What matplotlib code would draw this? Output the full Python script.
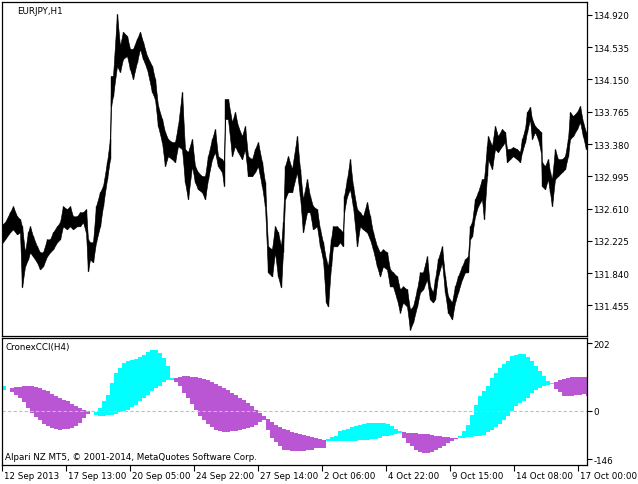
import numpy as np
import matplotlib
matplotlib.use("Agg")
import matplotlib.pyplot as plt
import matplotlib.transforms as mtransforms

# --- EURJPY H1, high/low (bar index = hours from start) ---
bar_x = [0, 5, 10, 13, 17, 20, 22, 25, 28, 30, 33, 37, 40, 43, 47, 50, 53, 57, 60, 63,
         67, 70, 73, 77, 80, 83, 86, 88, 90, 93, 96, 100, 103, 107, 110, 111, 113, 117, 120, 123,
         127, 130, 133, 137, 140, 143, 147, 152, 155, 158, 162, 165, 168, 172, 175, 178, 182, 185, 188, 192,
         195, 198, 202, 205, 208, 212, 215, 218, 222, 224, 225, 228, 232, 235, 238, 242, 245, 248, 252, 255,
         258, 262, 265, 268, 272, 275, 278, 281, 283, 285, 288, 292, 297, 300, 303, 307, 310, 313, 317, 320,
         323, 326, 328, 331, 333, 337, 340, 343, 344, 347, 350, 353, 357, 360, 363, 367, 370, 373, 377, 380,
         383, 387, 390, 393, 397, 400, 403, 407, 410, 413, 417, 420, 423, 427, 430, 433, 435, 438, 442, 445,
         448, 452, 455, 458, 462, 465, 468, 470, 472, 475, 478, 482, 484, 487, 488, 492, 495, 498, 502, 505,
         507, 510, 513, 517, 520, 522, 525, 527, 530, 532, 535, 538, 541, 542, 545, 548, 550, 552, 555, 558,
         562, 565, 568, 570, 573, 577, 580, 583, 586]
price_high = [132.399, 132.447, 132.566, 132.638, 132.518, 132.482, 132.399, 132.088, 132.327, 132.399,
              132.279, 132.160, 132.088, 132.088, 132.243, 132.243, 132.327, 132.399, 132.447, 132.638,
              132.602, 132.638, 132.518, 132.518, 132.566, 132.566, 132.602, 132.243, 132.208, 132.208,
              132.638, 132.805, 132.877, 133.163, 133.438, 134.191, 134.191, 134.932, 134.549, 134.717,
              134.669, 134.514, 134.514, 134.633, 134.717, 134.597, 134.430, 134.310, 134.155, 133.833,
              133.677, 133.522, 133.438, 133.402, 133.402, 133.594, 134.000, 133.319, 133.283, 133.438,
              133.116, 133.044, 132.996, 132.996, 133.235, 133.438, 133.558, 133.235, 133.199, 133.163,
              133.916, 133.916, 133.641, 133.761, 133.594, 133.474, 133.594, 133.235, 133.199, 133.319,
              133.402, 133.163, 132.924, 132.160, 132.124, 132.399, 132.327, 132.160, 132.447, 133.116,
              133.235, 133.080, 133.474, 133.080, 132.721, 132.960, 132.757, 132.638, 132.602, 132.363,
              132.208, 132.005, 131.921, 132.243, 132.399, 132.399, 132.363, 132.327, 132.757, 132.960,
              133.199, 132.877, 132.602, 132.566, 132.518, 132.686, 132.518, 132.327, 132.160, 132.088,
              132.124, 132.088, 131.885, 131.849, 131.801, 131.646, 131.682, 131.646, 131.407, 131.443,
              131.646, 131.849, 131.849, 132.040, 131.682, 131.610, 131.766, 132.005, 132.160, 131.801,
              131.562, 131.491, 131.682, 131.801, 131.921, 132.005, 132.040, 132.399, 132.447, 132.721,
              132.805, 132.960, 132.960, 133.355, 133.474, 133.355, 133.594, 133.474, 133.558, 133.522,
              133.319, 133.319, 133.343, 133.319, 133.283, 133.438, 133.558, 133.761, 133.821, 133.677,
              133.594, 133.558, 133.522, 133.163, 133.116, 133.199, 133.044, 132.960, 133.319, 133.199,
              133.199, 133.235, 133.438, 133.761, 133.713, 133.761, 133.833, 133.641, 133.522]
price_low = [132.160, 132.243, 132.327, 132.363, 132.303, 132.327, 131.670, 131.921, 132.005, 132.088,
             132.040, 131.969, 131.885, 131.921, 132.040, 132.088, 132.124, 132.208, 132.243, 132.399,
             132.363, 132.399, 132.363, 132.399, 132.399, 132.447, 132.327, 131.861, 132.005, 131.969,
             132.208, 132.399, 132.638, 132.960, 133.199, 133.833, 133.952, 134.310, 134.239, 134.394,
             134.430, 134.275, 134.155, 134.358, 134.514, 134.394, 134.275, 134.000, 133.916, 133.594,
             133.402, 133.116, 133.235, 133.199, 133.163, 133.355, 133.319, 132.924, 132.721, 133.116,
             132.924, 132.841, 132.805, 132.721, 132.960, 133.199, 133.283, 133.116, 133.044, 132.877,
             133.677, 133.677, 133.235, 133.355, 133.283, 133.199, 133.319, 132.996, 132.996, 133.044,
             133.116, 132.877, 132.638, 131.849, 131.801, 132.088, 131.801, 131.670, 132.088, 132.721,
             132.805, 132.805, 133.044, 132.757, 132.327, 132.566, 132.566, 132.363, 132.399, 132.160,
             132.005, 131.491, 131.443, 131.921, 132.160, 132.160, 132.208, 132.160, 132.566, 132.757,
             132.841, 132.638, 132.160, 132.399, 132.363, 132.327, 132.243, 132.124, 131.921, 131.801,
             131.921, 131.885, 131.682, 131.682, 131.527, 131.371, 131.491, 131.443, 131.168, 131.252,
             131.443, 131.610, 131.646, 131.766, 131.527, 131.491, 131.527, 131.801, 131.969, 131.610,
             131.371, 131.288, 131.491, 131.610, 131.766, 131.849, 131.849, 132.243, 132.279, 132.518,
             132.638, 132.721, 132.482, 132.996, 133.199, 133.080, 133.319, 133.283, 133.355, 133.402,
             133.163, 133.199, 133.235, 133.199, 133.163, 133.283, 133.402, 133.522, 133.677, 133.438,
             133.522, 133.438, 133.283, 132.877, 132.841, 132.960, 132.805, 132.638, 132.960, 132.996,
             133.044, 133.080, 133.235, 133.438, 133.474, 133.558, 133.641, 133.474, 133.319]
price_ticks = [131.455, 131.840, 132.225, 132.610, 132.995, 133.380, 133.765, 134.150, 134.535, 134.920]

# --- CronexCCI(H4): one value per H4 bar (4 hourly bars wide) ---
h4_x = list(range(2, 587, 4))
cci_fast = [75, 68, 55, 48, 38, 25, 8, -7, -19, -29, -39, -47, -52, -55, -57, -55, -54, -52, -47, -37,
            -22, -9, -8, -5, 8, 28, 48, 83, 113, 128, 143, 148, 151, 155, 161, 168, 175, 183, 181, 173,
            158, 133, 98, 85, 73, 53, 38, 21, 3, -15, -27, -40, -49, -57, -62, -63, -63, -62, -60, -57,
            -55, -53, -49, -42, -35, -27, -57, -82, -95, -105, -117, -119, -120, -122, -122, -121, -119, -117, -112, -112,
            -112, -85, -80, -75, -62, -57, -54, -50, -47, -42, -40, -38, -37, -37, -36, -37, -39, -45, -54, -62,
            -82, -97, -107, -119, -125, -127, -127, -125, -119, -112, -105, -97, -90, -85, -75, -62, -42, -12, 18, 43,
            58, 75, 98, 113, 128, 140, 150, 163, 168, 171, 169, 161, 148, 133, 118, 103, 88, 82, 65, 55,
            45, 43, 43, 48, 48, 50, 43]
cci_slow = [61, 68, 68, 70, 71, 73, 73, 73, 71, 68, 63, 58, 51, 45, 38, 33, 28, 21, 15, 8,
            3, -2, -6, -12, -15, -15, -14, -12, -9, -5, -1, 3, 11, 18, 28, 38, 48, 58, 68, 75,
            85, 93, 93, 98, 101, 103, 103, 101, 100, 98, 95, 91, 85, 81, 75, 68, 61, 53, 46, 38,
            31, 23, 13, 3, -7, -15, -25, -35, -42, -49, -54, -59, -63, -67, -70, -73, -77, -79, -82, -85,
            -87, -90, -91, -92, -92, -92, -92, -91, -90, -89, -88, -87, -85, -84, -82, -77, -75, -72, -69, -67,
            -65, -66, -67, -68, -69, -70, -71, -72, -75, -77, -78, -79, -81, -82, -82, -81, -80, -79, -77, -75,
            -72, -65, -57, -49, -39, -27, -15, -2, 13, 23, 30, 38, 53, 63, 68, 73, 78, 80, 86, 91,
            95, 98, 100, 101, 101, 101, 101]
cci_ticks = [202, 0, -146]

date_pos = [2, 66, 130, 194, 258, 322, 386, 450, 514, 578]
date_labels = ["12 Sep 2013", "17 Sep 13:00", "20 Sep 05:00", "24 Sep 22:00", "27 Sep 14:00",
               "2 Oct 06:00", "4 Oct 22:00", "9 Oct 15:00", "14 Oct 08:00", "17 Oct 00:00"]

W, H = 638, 485
FS = 6.3
plt.rcParams['font.family'] = ['DejaVu Sans']

fig = plt.figure(figsize=(W / 100, H / 100), dpi=100)


def px_axes(left, top, right, bottom):
    return fig.add_axes([left / W, 1 - bottom / H, (right - left) / W, (bottom - top) / H])


def style(a):
    for s in a.spines.values():
        s.set_color("black")
        s.set_linewidth(0.9)
    a.yaxis.tick_right()
    a.tick_params(axis="y", direction="out", length=3.5, width=0.8, pad=1.5, labelsize=FS)
    a.set_facecolor("white")


# price panel: hourly bars drawn as a jagged high/low band
ax = px_axes(2.5, 2.5, 586.5, 336.5)
ax.fill_between(bar_x, price_low, price_high, color="black", linewidth=0.4)
ax.vlines(bar_x, price_low, price_high, color="black", linewidth=1)
ax.set_xlim(2.5, 586.5)
ax.set_ylim(131.097, 135.079)
ax.set_xticks([])
style(ax)
ax.set_yticks(price_ticks)
ax.set_yticklabels([f"{t:.3f}" for t in price_ticks])

# indicator panel
ax2 = px_axes(2.5, 338.5, 586.5, 465.5)
fast = np.array(cci_fast)
slow = np.array(cci_slow)
colors = np.where(fast >= slow, "#00FFFF", "#BA55D3")
ax2.bar(h4_x, np.abs(fast - slow), bottom=np.minimum(fast, slow), width=4, align="edge",
        color=colors, linewidth=0)
ax2.axhline(0, color="#c0c0c0", linestyle=(0, (3, 2)), linewidth=0.8)
ax2.set_xlim(2.5, 586.5)
ax2.set_ylim(-162, 219)
style(ax2)
ax2.set_yticks(cci_ticks)
ax2.set_yticklabels([str(t) for t in cci_ticks])
ax2.set_xticks(date_pos)
ax2.set_xticklabels(date_labels)
ax2.tick_params(axis="x", direction="out", length=4, width=0.8, pad=1, labelsize=FS)
shift = mtransforms.ScaledTranslation(2 / 100, 0, fig.dpi_scale_trans)
for lab in ax2.get_xticklabels():
    lab.set_horizontalalignment("left")
    lab.set_transform(lab.get_transform() + shift)

fig.text(17 / W, 1 - 13.5 / H, "EURJPY,H1", fontsize=FS, va="baseline")
fig.text(6 / W, 1 - 350.5 / H, "CronexCCI(H4)", fontsize=FS, va="baseline")
fig.text(5 / W, 1 - 460 / H, "Alpari NZ MT5, \u00a9 2001-2014, MetaQuotes Software Corp.",
         fontsize=FS, va="baseline")

fig.savefig("out.png", dpi=100, facecolor="white")
